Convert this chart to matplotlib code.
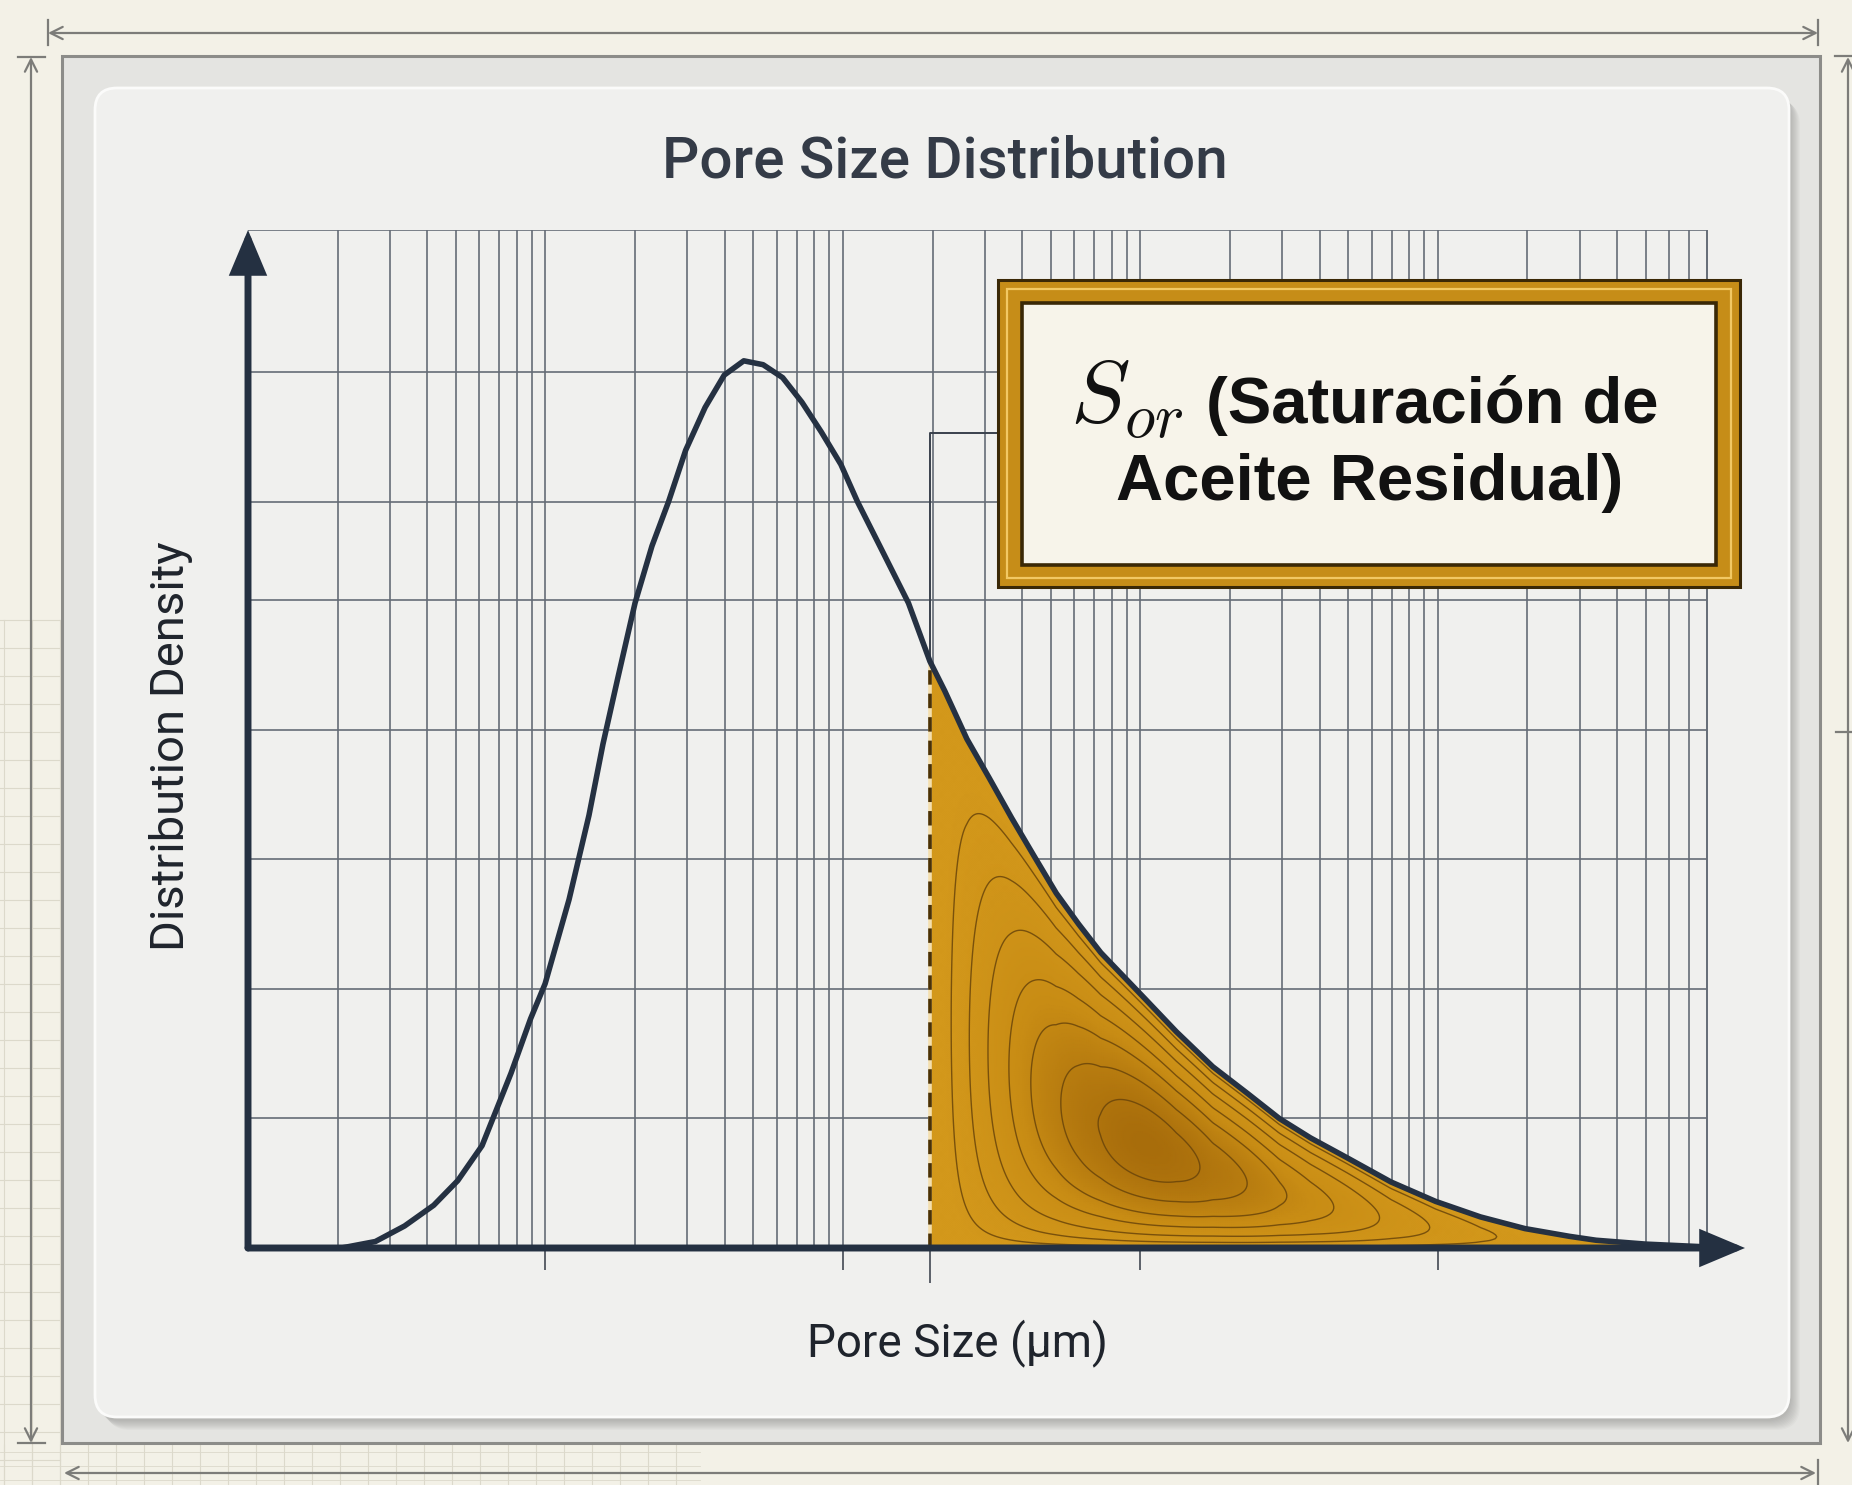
import matplotlib
matplotlib.use('Agg')
import matplotlib.pyplot as plt
import numpy as np
from matplotlib.patches import Rectangle, FancyBboxPatch
from matplotlib.colors import LinearSegmentedColormap

# ---- data ----
pore_size_um = [0.0125, 0.0206, 0.0268, 0.0336, 0.0421, 0.0507, 0.0612, 0.0766,
                0.0891, 0.0997, 0.120, 0.140, 0.156, 0.175, 0.200, 0.228,
                0.259, 0.296, 0.344, 0.399, 0.464, 0.539, 0.627, 0.728,
                0.846, 0.984, 1.12, 1.33, 1.66, 1.96, 2.20, 2.61, 3.10,
                3.69, 4.38, 5.21, 6.20, 7.36, 8.75, 10.4, 13.2, 17.5, 23.0,
                29.3, 37.3, 49.2, 69.5, 98.2, 139.0, 196.0, 277.0, 340.0,
                500.0, 775.0]
density = [0.00, 0.00, 0.05, 0.17, 0.33, 0.52, 0.79, 1.35,
           1.77, 2.04, 2.69, 3.34, 3.89, 4.40, 4.98, 5.42,
           5.76, 6.16, 6.49, 6.74, 6.85, 6.82, 6.72, 6.53,
           6.30, 6.05, 5.76, 5.42, 4.98, 4.53, 4.30, 3.93, 3.63,
           3.32, 3.03, 2.74, 2.50, 2.28, 2.10, 1.92, 1.67, 1.40, 1.19,
           1.00, 0.85, 0.70, 0.51, 0.36, 0.24, 0.15, 0.09, 0.06,
           0.03, 0.01]
cutoff_um = 1.96
grid_y = [1, 2, 3, 4, 5, 5.76, 6.76]
decade_ticks = [0.1, 1, 10, 100]
x_min, x_max, x_grid_end = 0.01, 1077, 800
y_max = 7.86

title = 'Pore Size Distribution'
x_label = 'Pore Size (µm)'
y_label = 'Distribution Density'
box_math = r'$S_{or}$'
box_line1 = '(Saturación de'
box_line2 = 'Aceite Residual)'

W, H = 1852, 1485
plt.rcParams['mathtext.fontset'] = 'cm'

fig = plt.figure(figsize=(W / 100, H / 100), dpi=100)
fig.patch.set_facecolor('#f3f1e7')

# background layer in pixel coordinates (y downwards)
bg = fig.add_axes([0, 0, 1, 1])
bg.set_xlim(0, W)
bg.set_ylim(H, 0)
bg.axis('off')

# faint graph paper on the margins
for gx in np.arange(4, 62, 28):
    bg.plot([gx, gx], [620, H], color='#dcd9cb', lw=0.8, zorder=0)
for gy in np.arange(620, H, 28):
    bg.plot([0, 60], [gy, gy], color='#dcd9cb', lw=0.8, zorder=0)
for gx in np.arange(4, 700, 28):
    bg.plot([gx, gx], [1445, H], color='#dcd9cb', lw=0.8, zorder=0)
for gy in np.arange(1452, H, 14):
    bg.plot([0, 700], [gy, gy], color='#dcd9cb', lw=0.6, zorder=0)

# outer grey frame
bg.add_patch(Rectangle((62, 56), 1758, 1387, facecolor='#e4e4e1',
                       edgecolor='#8c8c89', lw=2.2, zorder=1))
# card shadow and card
for i in range(10):
    bg.add_patch(FancyBboxPatch((97 + i, 92 + i), 1694, 1329,
                                boxstyle='round,pad=0,rounding_size=24',
                                facecolor='#000000', edgecolor='none',
                                alpha=0.018, zorder=2))
bg.add_patch(FancyBboxPatch((95, 88), 1694, 1329,
                            boxstyle='round,pad=0,rounding_size=22',
                            facecolor='#f0f0ee', edgecolor='#fbfbfa',
                            lw=2, zorder=3))

# dimension lines around the frame
dim_col = '#7c7c79'
dim_arrow = dict(arrowstyle='<->', color=dim_col, lw=1.6, mutation_scale=22,
                 shrinkA=0, shrinkB=0)
bg.annotate('', xy=(1818, 33), xytext=(48, 33), arrowprops=dim_arrow)
bg.annotate('', xy=(31, 1443), xytext=(31, 57), arrowprops=dim_arrow)
bg.annotate('', xy=(1816, 1473), xytext=(64, 1473), arrowprops=dim_arrow)
bg.annotate('', xy=(1848, 1443), xytext=(1848, 57), arrowprops=dim_arrow)
for (x0, y0, x1, y1) in [(48, 20, 48, 45), (1818, 20, 1818, 45),
                         (18, 57, 45, 57), (18, 1443, 45, 1443),
                         (1835, 56, 1852, 56), (1836, 732, 1852, 732),
                         (1818, 1460, 1818, 1485)]:
    bg.plot([x0, x1], [y0, y1], color=dim_col, lw=1.6, zorder=1)

# titles
txt_col = '#343b47'
bg.text(945, 162, title, ha='center', va='center', fontsize=42,
        family='Roboto', weight='medium', color=txt_col, zorder=5)
bg.text(957, 1343, x_label, ha='center', va='center', fontsize=33,
        family='Roboto', color='#1f242c', zorder=5)
bg.text(171, 746, y_label, ha='center', va='center', fontsize=34,
        family='Roboto', color='#1f242c', rotation=90, zorder=5)

# ---- main plot ----
ax = fig.add_axes([248 / W, 1 - 1248 / H, (1745 - 248) / W, (1248 - 230) / H])
ax.set_xscale('log')
ax.set_xlim(x_min, x_max)
ax.set_ylim(0, y_max)
ax.axis('off')

xs = np.array(pore_size_um)
ys = np.array(density)

grid_col = '#656c76'
for dec in [0.01, 0.1, 1, 10, 100]:
    for k in range(1, 10):
        v = k * dec
        if x_min < v <= x_grid_end:
            ax.vlines(v, 0, y_max, color=grid_col, lw=1.2, zorder=1)
ax.vlines(x_grid_end, 0, y_max, color=grid_col, lw=1.2, zorder=1)
ax.hlines(grid_y + [y_max], x_min, x_grid_end, color=grid_col, lw=1.2, zorder=1)

# shaded residual-oil region
mask = xs >= cutoff_um
y_cut = ys[np.argmin(np.abs(xs - cutoff_um))]
poly = ax.fill_between(xs[mask], ys[mask], 0, color='#cd9318', lw=0, zorder=3)
clip = poly.get_paths()[0]

u0 = np.log10(cutoff_um)
U, V = np.meshgrid(np.linspace(u0, np.log10(x_grid_end), 420),
                   np.linspace(0, y_cut + 0.1, 320))
yc = np.interp(U, np.log10(xs), ys)
inside = np.clip(yc - V, 0, None)
field = (U - u0) ** 2.2 * V * inside ** 1.4
field = field / field.max()
gold = LinearSegmentedColormap.from_list('gold', ['#d3981b', '#c88c14', '#a86d0b'])
pcm = ax.pcolormesh(10 ** U, V, field, cmap=gold, shading='gouraud', zorder=3.2)
pcm.set_clip_path(clip, ax.transData)
cs = ax.contour(10 ** U, V, field, levels=[0.04, 0.13, 0.26, 0.42, 0.58, 0.75, 0.9],
                colors='#6a450a', linewidths=1.0, alpha=0.85, zorder=3.4)
cs.set_clip_path(clip, ax.transData)

# cutoff: dashed edge, leader to the label box, tick below the axis
ax.plot([cutoff_um, cutoff_um], [0, y_cut], color='#f4dfae', lw=2.6, zorder=3.6)
ax.plot([cutoff_um, cutoff_um], [0, y_cut], color='#4a3106', lw=2.6,
        ls=(0, (4, 2.5)), zorder=3.7)
ax.plot([cutoff_um, cutoff_um, 10], [y_cut, 6.29, 6.29], color='#3a414c',
        lw=1.4, zorder=2)
ax.vlines(cutoff_um, -0.27, 0, color='#50565f', lw=1.3, clip_on=False, zorder=2)
ax.vlines(decade_ticks, -0.17, 0, color='#50565f', lw=1.3, clip_on=False, zorder=2)

# curve
ax.plot(xs, ys, color='#253142', lw=4.0, solid_capstyle='round',
        solid_joinstyle='round', zorder=5)

# axes with arrow heads
axis_col = '#243041'
head = dict(arrowstyle='-|>,head_length=1.0,head_width=0.42', mutation_scale=24,
            lw=5, color=axis_col, shrinkA=0, shrinkB=0, joinstyle='miter')
ax.annotate('', xy=(x_max, 0), xytext=(x_min, 0), arrowprops=head,
            annotation_clip=False, zorder=6)
ax.annotate('', xy=(x_min, y_max), xytext=(x_min, 0), arrowprops=head,
            annotation_clip=False, zorder=6)

# ---- label box on top ----
top = fig.add_axes([0, 0, 1, 1])
top.set_xlim(0, W)
top.set_ylim(H, 0)
top.axis('off')
top.patch.set_alpha(0)
top.add_patch(Rectangle((998, 280), 742, 307, facecolor='#c68d18',
                        edgecolor='#3a2806', lw=2.2))
top.add_patch(Rectangle((1007, 289), 724, 289, facecolor='none',
                        edgecolor='#f2c863', lw=1.6))
top.add_patch(Rectangle((1022, 303), 694, 262, facecolor='#f7f4ea',
                        edgecolor='#3a2806', lw=2.6))
top.text(1070, 423, box_math, fontsize=64, ha='left', va='baseline', color='#111111')
top.text(1206, 423, box_line1, fontsize=47, ha='left', va='baseline',
         family='Liberation Sans', weight='bold', color='#111111')
top.text(1370, 500, box_line2, fontsize=47, ha='center', va='baseline',
         family='Liberation Sans', weight='bold', color='#111111')

fig.savefig('out.png', dpi=100, facecolor=fig.get_facecolor())
